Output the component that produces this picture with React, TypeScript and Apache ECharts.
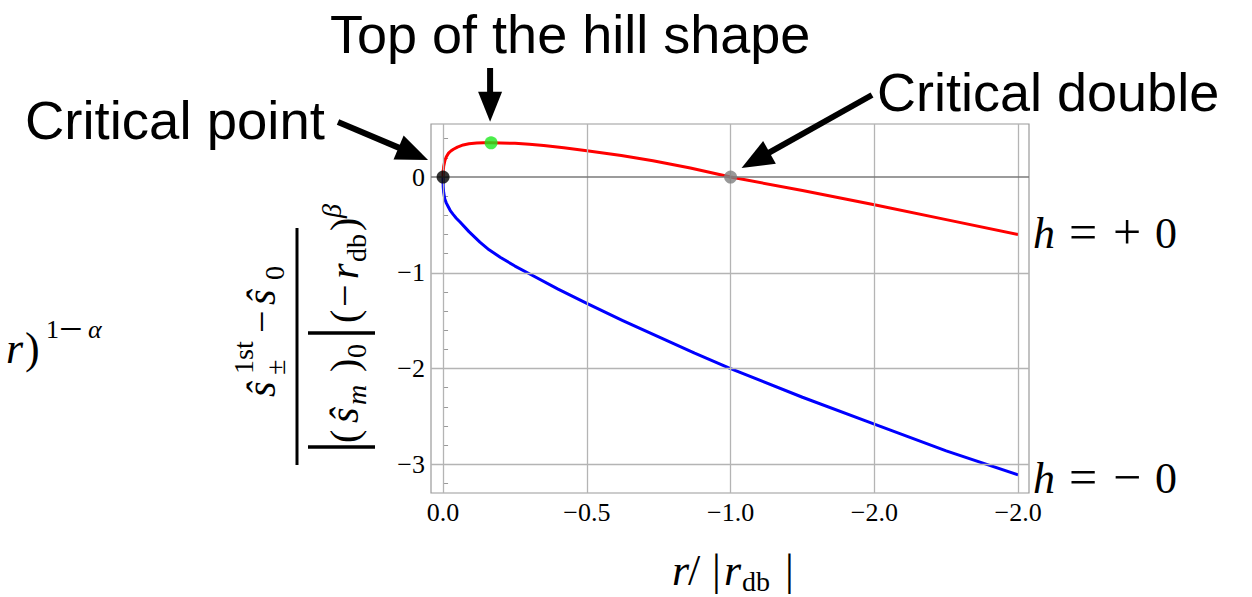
import React, { useEffect, useRef } from "react";
import * as echarts from "echarts";

// ---------------- data ----------------
const xTickValues = [0, -0.5, -1, -1.5, -2];
const xTickLabels = ["0.0", "−0.5", "−1.0", "−2.0", "−2.0"];
const yTickValues = [0, -1, -2, -3];
const yTickLabels = ["0", "−1", "−2", "−3"];
const yMinorTickValues = [0.4, 0.2, 0, -0.2, -0.4, -0.6, -0.8, -1, -1.2, -1.4, -1.6, -1.8, -2, -2.2, -2.4, -2.6, -2.8, -3, -3.2];

// h = +0 branch (red)
const redX = [0, -0.0005, -0.002, -0.007, -0.012, -0.019, -0.027, -0.036, -0.05, -0.07, -0.09, -0.117, -0.14, -0.167, -0.2, -0.25, -0.3, -0.35, -0.42, -0.5, -0.62, -0.73, -0.86, -1.0, -1.25, -1.5, -1.75, -2.0];
const redY = [0, 0.06, 0.11, 0.18, 0.215, 0.25, 0.272, 0.29, 0.312, 0.335, 0.347, 0.355, 0.357, 0.358, 0.356, 0.352, 0.342, 0.33, 0.305, 0.275, 0.225, 0.17, 0.095, 0, -0.14, -0.29, -0.445, -0.6];
// h = -0 branch (blue)
const blueX = [0, -0.0005, -0.002, -0.006, -0.011, -0.018, -0.025, -0.035, -0.046, -0.059, -0.09, -0.128, -0.16, -0.2, -0.25, -0.3, -0.4, -0.5, -0.625, -0.75, -0.875, -1.0, -1.25, -1.5, -1.75, -2.0];
const blueY = [0, -0.1, -0.16, -0.23, -0.27, -0.31, -0.35, -0.39, -0.43, -0.47, -0.57, -0.68, -0.76, -0.84, -0.93, -1.01, -1.17, -1.32, -1.5, -1.67, -1.84, -2.0, -2.3, -2.58, -2.86, -3.11];

// special points
const criticalPoint = [0, 0];
const hillTop = [-0.167, 0.358];
const criticalDouble = [-1.0, 0];

// annotation texts
const labelCriticalPoint = "Critical point";
const labelHillTop = "Top of the hill shape";
const labelCriticalDouble = "Critical double";

// ---------------- helpers ----------------
const SERIF = "'Liberation Serif', 'Times New Roman', serif";
const SANS = "'Liberation Sans', Arial, sans-serif";

function txt(text: string, x: number, baseline: number, size: number, opts: any = {}) {
  return {
    type: "text",
    x,
    y: baseline - 0.34 * size,
    silent: true,
    z: 100,
    style: {
      text,
      fontSize: size,
      fontFamily: opts.family || SERIF,
      fontStyle: opts.italic ? "italic" : "normal",
      fill: "#000",
      align: opts.align || "left",
      textAlign: opts.align || "left",
      verticalAlign: "middle",
      textVerticalAlign: "middle",
    },
  };
}

function arrow(x1: number, y1: number, x2: number, y2: number, headLen = 30, headW = 24, lw = 6) {
  const dx = x2 - x1;
  const dy = y2 - y1;
  const len = Math.sqrt(dx * dx + dy * dy);
  const ux = dx / len;
  const uy = dy / len;
  const bx = x2 - ux * headLen;
  const by = y2 - uy * headLen;
  const px = -uy * headW / 2;
  const py = ux * headW / 2;
  return [
    {
      type: "line",
      silent: true,
      z: 100,
      shape: { x1, y1, x2: bx + ux * 2, y2: by + uy * 2 },
      style: { stroke: "#000", lineWidth: lw },
    },
    {
      type: "polygon",
      silent: true,
      z: 100,
      shape: { points: [[x2, y2], [bx + px, by + py], [bx - px, by - py]] },
      style: { fill: "#000" },
    },
  ];
}

function lbl(values: number[], labels: string[]) {
  return (v: number) => {
    for (let i = 0; i < values.length; i++) {
      if (Math.abs(values[i] - v) < 1e-9) return labels[i];
    }
    return "";
  };
}

export default function App() {
  const ref = useRef<HTMLDivElement>(null);

  useEffect(() => {
    if (!ref.current) return;
    const chart = echarts.init(ref.current, null, { renderer: "svg" });

    const gridLight = { color: "#b4b4b4", width: 1.3, type: "solid" };
    const gridZero = { color: "#7a7a7a", width: 1.5, type: "solid" };

    const option: any = {
      animation: false,
      backgroundColor: "#ffffff",
      grid: {
        left: 431,
        top: 124,
        width: 598,
        height: 369,
        show: true,
        borderColor: "#9a9a9a",
        borderWidth: 1.2,
        backgroundColor: "transparent",
        containLabel: false,
        outerBoundsMode: "none",
      },
      xAxis: {
        type: "value",
        inverse: true,
        min: -2.038,
        max: 0.042,
        axisLine: { show: false },
        splitLine: { show: false },
        axisTick: { show: false },
        axisLabel: {
          customValues: xTickValues,
          formatter: lbl(xTickValues, xTickLabels),
          fontFamily: SERIF,
          fontSize: 26,
          color: "#000",
          margin: 6,
          hideOverlap: false,
        },
      },
      yAxis: {
        type: "value",
        min: -3.3,
        max: 0.554,
        axisLine: { show: false },
        splitLine: { show: false },
        axisTick: {
          show: true,
          inside: true,
          length: 5,
          customValues: yMinorTickValues,
          lineStyle: { color: "#9a9a9a", width: 1 },
        },
        axisLabel: {
          customValues: yTickValues,
          formatter: lbl(yTickValues, yTickLabels),
          fontFamily: SERIF,
          fontSize: 26,
          color: "#000",
          margin: 6,
          hideOverlap: false,
        },
      },
      series: [
        {
          type: "scatter",
          data: [],
          z: 1,
          silent: true,
          markLine: {
            silent: true,
            animation: false,
            symbol: ["none", "none"],
            label: { show: false },
            emphasis: { disabled: true },
            data: [
              ...xTickValues.map((v) => ({ xAxis: v, lineStyle: gridLight })),
              ...yTickValues.map((v) => ({ yAxis: v, lineStyle: v === 0 ? gridZero : gridLight })),
            ],
          },
        },
        {
          type: "line",
          name: "h = +0",
          data: redX.map((x, i) => [x, redY[i]]),
          showSymbol: false,
          smooth: false,
          lineStyle: { color: "#ff0000", width: 3, join: "round" },
          z: 3,
          silent: true,
        },
        {
          type: "line",
          name: "h = -0",
          data: blueX.map((x, i) => [x, blueY[i]]),
          showSymbol: false,
          smooth: false,
          lineStyle: { color: "#0000ff", width: 3, join: "round" },
          z: 3,
          silent: true,
        },
        {
          type: "scatter",
          symbolSize: 13,
          z: 5,
          silent: true,
          data: [
            { value: criticalPoint, itemStyle: { color: "#000000" } },
            { value: hillTop, itemStyle: { color: "#1ee81e" } },
            { value: criticalDouble, itemStyle: { color: "#808080" } },
          ],
        },
      ],
    };

    chart.setOption(option);

    const cp = chart.convertToPixel({ gridIndex: 0 }, criticalPoint) as number[];
    const ht = chart.convertToPixel({ gridIndex: 0 }, hillTop) as number[];
    const cd = chart.convertToPixel({ gridIndex: 0 }, criticalDouble) as number[];

    // rotated y-axis title (fraction), local coordinates
    const yTitle = {
      type: "group",
      x: 297,
      y: 465,
      rotation: Math.PI / 2,
      children: [
        { type: "line", silent: true, shape: { x1: 0, y1: 0, x2: 237, y2: 0 }, style: { stroke: "#000", lineWidth: 3 } },
        // numerator
        txt("ŝ", 68, -22, 40, { italic: true }),
        txt("1st", 91, -44, 28),
        txt("±", 90, -12, 28),
        txt("−", 132, -22, 40),
        txt("ŝ", 160, -22, 40, { italic: true }),
        txt("0", 185, -13, 28),
        // denominator
        { type: "line", silent: true, shape: { x1: 18, y1: 11, x2: 18, y2: 78 }, style: { stroke: "#000", lineWidth: 3.5 } },
        { type: "line", silent: true, shape: { x1: 132, y1: 11, x2: 132, y2: 78 }, style: { stroke: "#000", lineWidth: 3.5 } },
        txt("(", 22, 61, 40),
        txt("ŝ", 42, 61, 40, { italic: true }),
        txt("m", 60, 69, 28, { italic: true }),
        txt(")", 93, 61, 40),
        txt("0", 107, 69, 28),
        txt("(", 142, 61, 40),
        txt("−", 158, 61, 40),
        txt("r", 186, 61, 40, { italic: true }),
        txt("db", 203, 69, 28),
        txt(")", 234, 61, 40),
        txt("β", 247, 44, 28, { italic: true }),
      ],
    };

    const graphic: any[] = [
      txt(labelHillTop, 330, 52, 54, { family: SANS }),
      txt(labelCriticalPoint, 25, 139, 54.5, { family: SANS }),
      txt(labelCriticalDouble, 877, 110, 54, { family: SANS }),
      ...arrow(338, 122, cp[0] - 15, cp[1] - 17, 32, 26, 6),
      ...arrow(ht[0] - 1, 68, ht[0] - 1, ht[1] - 21, 30, 24, 6),
      ...arrow(872, 95, cd[0] + 11, cd[1] - 9, 32, 26, 6),
      // right-side labels
      txt("h", 1033, 248, 44, { italic: true }),
      txt("=", 1069, 249, 50),
      txt("+", 1113, 249, 50),
      txt("0", 1155, 248, 44),
      txt("h", 1033, 493, 44, { italic: true }),
      txt("=", 1069, 494, 50),
      txt("−", 1113, 494, 50),
      txt("0", 1155, 493, 44),
      // x-axis title r/|r_db|
      txt("r", 672, 585, 44, { italic: true }),
      txt("/", 688, 585, 44),
      txt("|", 712, 585, 44),
      txt("r", 724, 585, 44, { italic: true }),
      txt("db", 742, 591, 28),
      txt("|", 785, 585, 44),
      // cut-off text at left
      txt("r", 6, 363, 44, { italic: true }),
      txt(")", 25, 363, 44),
      txt("1", 46, 338, 26),
      txt("−", 59, 343, 42),
      txt("α", 88, 338, 26, { italic: true }),
      yTitle,
    ];

    chart.setOption({ graphic });

    return () => {
      chart.dispose();
    };
  }, []);

  return (
    <div
      ref={ref}
      style={{ position: "fixed", left: 0, top: 0, width: 1252, height: 597, background: "#fff" }}
    />
  );
}
